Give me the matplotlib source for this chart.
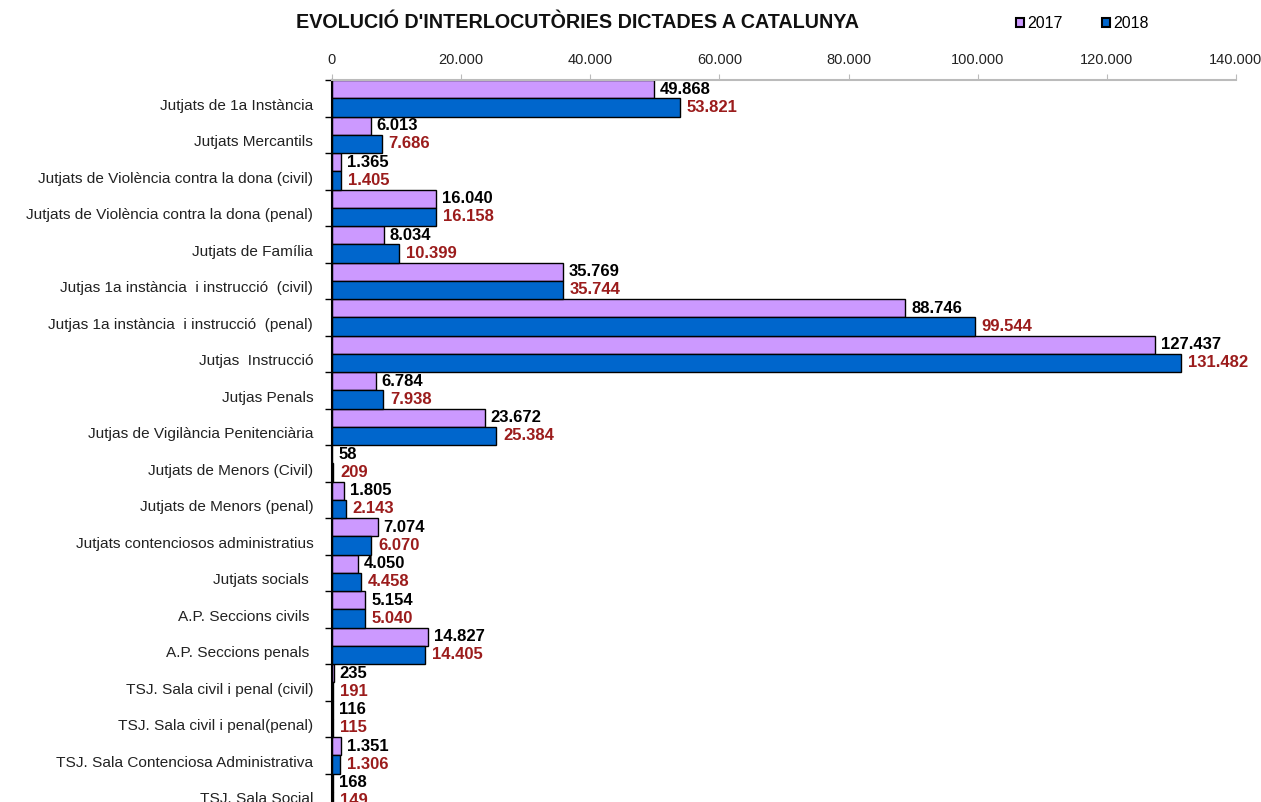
import matplotlib
matplotlib.use("Agg")
import matplotlib.pyplot as plt
import matplotlib.transforms as mtransforms
from matplotlib.ticker import FuncFormatter
from matplotlib.patches import Patch

plt.rcParams['font.family'] = ['Liberation Sans', 'DejaVu Sans']

categories = [
    "Jutjats de 1a Instància",
    "Jutjats Mercantils",
    "Jutjats de Violència contra la dona (civil)",
    "Jutjats de Violència contra la dona (penal)",
    "Jutjats de Família",
    "Jutjas 1a instància  i instrucció  (civil)",
    "Jutjas 1a instància  i instrucció  (penal)",
    "Jutjas  Instrucció",
    "Jutjas Penals",
    "Jutjas de Vigilància Penitenciària",
    "Jutjats de Menors (Civil)",
    "Jutjats de Menors (penal)",
    "Jutjats contenciosos administratius",
    "Jutjats socials ",
    "A.P. Seccions civils ",
    "A.P. Seccions penals ",
    "TSJ. Sala civil i penal (civil)",
    "TSJ. Sala civil i penal(penal)",
    "TSJ. Sala Contenciosa Administrativa",
    "TSJ. Sala Social",
]
values_2017 = [49868, 6013, 1365, 16040, 8034, 35769, 88746, 127437, 6784, 23672,
               58, 1805, 7074, 4050, 5154, 14827, 235, 116, 1351, 168]
values_2018 = [53821, 7686, 1405, 16158, 10399, 35744, 99544, 131482, 7938, 25384,
               209, 2143, 6070, 4458, 5040, 14405, 191, 115, 1306, 149]
series_names = ["2017", "2018"]
x_ticks = [0, 20000, 40000, 60000, 80000, 100000, 120000, 140000]

c2017 = "#CC99FF"
c2018 = "#0066CC"
red = "#9B1C1C"

def fmt(v):
    return f"{int(v):,}".replace(",", ".")

W, H = 1261, 802
fig = plt.figure(figsize=(W / 100, H / 100), dpi=100)
left, right, top, bottom = 332, 1236, 80, 810
ax = fig.add_axes([left / W, 1 - bottom / H, (right - left) / W, (bottom - top) / H])

n = len(categories)
pos17 = [i + 0.25 for i in range(n)]
pos18 = [i + 0.75 for i in range(n)]
ax.barh(pos17, values_2017, height=0.5, color=c2017, edgecolor="black", linewidth=1.0)
ax.barh(pos18, values_2018, height=0.5, color=c2018, edgecolor="black", linewidth=1.0)

ax.set_xlim(0, 140000)
ax.set_ylim(n, 0)

# value labels
off17 = mtransforms.offset_copy(ax.transData, fig=fig, x=6, y=0, units='dots')
off18 = mtransforms.offset_copy(ax.transData, fig=fig, x=7, y=0, units='dots')
for p, v in zip(pos17, values_2017):
    ax.text(v, p, fmt(v), transform=off17, ha="left", va="center",
            fontsize=12, fontweight="bold", color="black", clip_on=False)
for p, v in zip(pos18, values_2018):
    ax.text(v, p, fmt(v), transform=off18, ha="left", va="center",
            fontsize=12, fontweight="bold", color=red, clip_on=False)

# x axis on top
ax.xaxis.tick_top()
ax.set_xticks(x_ticks)
ax.xaxis.set_major_formatter(FuncFormatter(lambda v, p: fmt(v)))
ax.tick_params(axis="x", length=4, color="#BBBBBB", labelsize=10.5, pad=5,
               labelcolor="#222222")

# y axis
ax.set_yticks([i + 0.5 for i in range(n)])
ax.set_yticklabels(categories, fontsize=11.1)
ax.set_yticks(list(range(n + 1)), minor=True)
ax.tick_params(axis="y", which="major", length=0, pad=13.5, labelcolor="#222222")
ax.tick_params(axis="y", which="minor", length=5, width=1, color="black")
shift = mtransforms.ScaledTranslation(0, -6 / 100, fig.dpi_scale_trans)
for lbl in ax.get_yticklabels():
    lbl.set_transform(lbl.get_transform() + shift)

for s in ["right", "bottom"]:
    ax.spines[s].set_visible(False)
ax.spines["left"].set_linewidth(1.5)
ax.spines["top"].set_color("#BBBBBB")
ax.spines["top"].set_linewidth(1.5)

fig.text(577 / W, 1 - 22 / H, "EVOLUCIÓ D'INTERLOCUTÒRIES DICTADES A CATALUNYA",
         ha="center", va="center", fontsize=14.2, fontweight="bold", color="#111111")

handles = [Patch(facecolor=c2017, edgecolor="black", linewidth=1.5),
           Patch(facecolor=c2018, edgecolor="black", linewidth=1.5)]
fig.legend(handles, series_names, loc="center left", bbox_to_anchor=(1016 / W, 1 - 24 / H),
           ncol=2, frameon=False, fontsize=11.5, handlelength=0.5, handleheight=0.5,
           handletextpad=0.2, columnspacing=2.5, borderpad=0, borderaxespad=0)

fig.savefig("out.png", dpi=100)
